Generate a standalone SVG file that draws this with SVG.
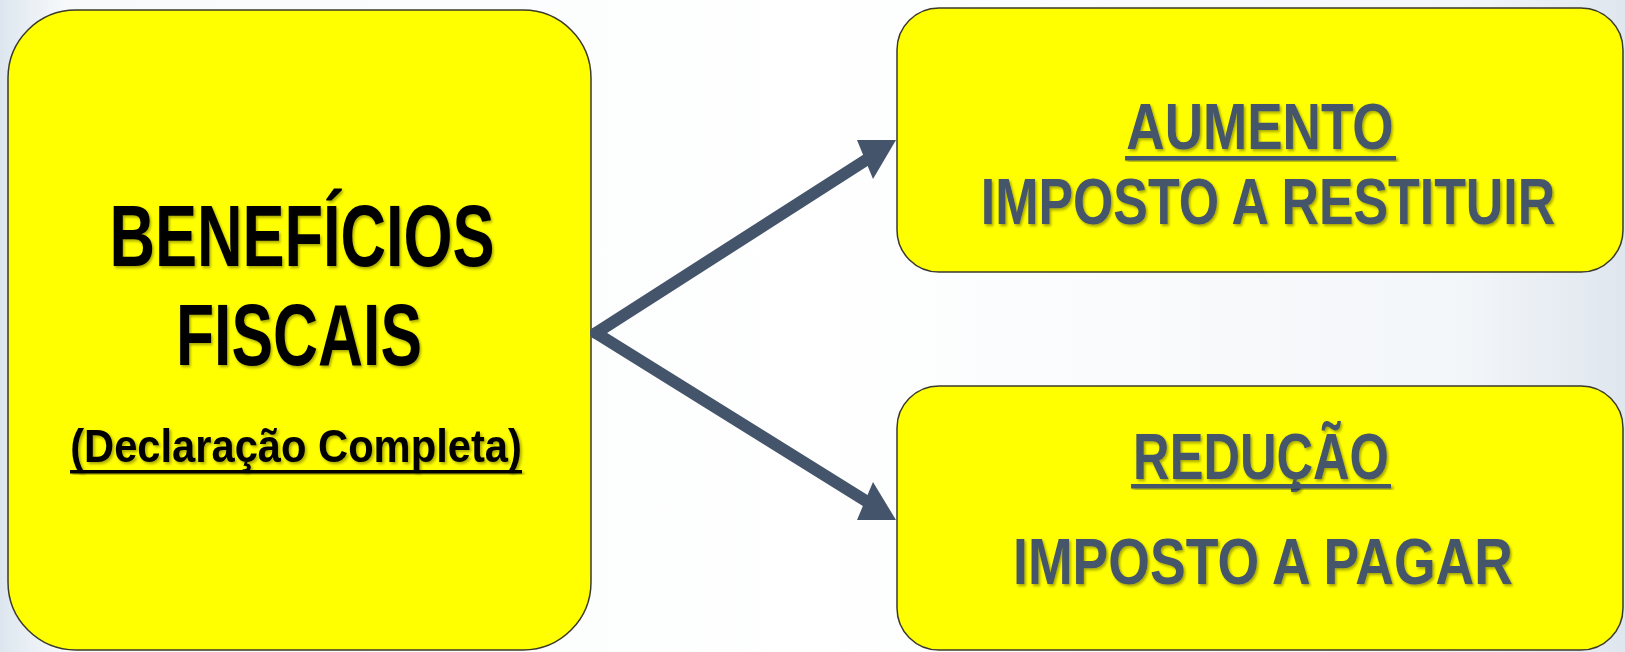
<svg xmlns="http://www.w3.org/2000/svg" width="1625" height="652" viewBox="0 0 1625 652">
  <defs>
    <linearGradient id="bg" x1="0" y1="0" x2="1" y2="0">
      <stop offset="0" stop-color="#dde6ef"/>
      <stop offset="0.04" stop-color="#f7f9fb"/>
      <stop offset="0.5" stop-color="#ffffff"/>
      <stop offset="0.9" stop-color="#f3f6f9"/>
      <stop offset="1" stop-color="#dfe6ee"/>
    </linearGradient>
    <filter id="sh" x="-10%" y="-20%" width="120%" height="150%">
      <feDropShadow dx="2" dy="2" stdDeviation="1.5" flood-color="#000" flood-opacity="0.35"/>
    </filter>
  </defs>
  <style>
    .box { fill: #ffff00; stroke: #3a3a2a; stroke-width: 1.5; }
    .t { font-family: "Liberation Sans", Arial, sans-serif; font-weight: bold; text-anchor: middle; filter: url(#sh); }
    .dark { fill: #000000; }
    .slate { fill: #44546a; }
    .conn { fill: none; stroke: #44546a; stroke-width: 12; stroke-linecap: round; }
    .head { fill: #44546a; }
  </style>
  <rect x="0" y="0" width="1625" height="652" fill="url(#bg)"/>

  <g id="node-beneficios">
    <rect class="box" x="8" y="10" width="583" height="640" rx="68" ry="68"/>
    <text class="t dark" transform="translate(302,266) scale(0.724,1)" x="0" y="0" font-size="87" textLength="532" lengthAdjust="spacingAndGlyphs">BENEFÍCIOS</text>
    <text class="t dark" transform="translate(299,365) scale(0.717,1)" x="0" y="0" font-size="87" textLength="343" lengthAdjust="spacingAndGlyphs">FISCAIS</text>
    <text class="t dark" transform="translate(296,462) scale(0.907,1)" x="0" y="0" font-size="46" textLength="498" lengthAdjust="spacingAndGlyphs">(Declaração Completa)</text>
    <rect x="70" y="470" width="452" height="3.5" fill="#000000" filter="url(#sh)"/>
  </g>

  <g id="node-aumento">
    <rect class="box" x="897" y="8" width="726" height="264" rx="42" ry="42"/>
    <text class="t slate" transform="translate(1260,149) scale(0.81,1)" x="0" y="0" font-size="65" textLength="330" lengthAdjust="spacingAndGlyphs">AUMENTO</text>
    <rect x="1125" y="156" width="271" height="4.5" fill="#44546a" filter="url(#sh)"/>
    <text class="t slate" transform="translate(1268,224) scale(0.79,1)" x="0" y="0" font-size="65" textLength="727" lengthAdjust="spacingAndGlyphs">IMPOSTO A RESTITUIR</text>
  </g>

  <g id="node-reducao">
    <rect class="box" x="897" y="386" width="726" height="264" rx="42" ry="42"/>
    <text class="t slate" transform="translate(1261,479) scale(0.78,1)" x="0" y="0" font-size="65" textLength="328" lengthAdjust="spacingAndGlyphs">REDUÇÃO</text>
    <rect x="1131" y="484" width="260" height="4.5" fill="#44546a" filter="url(#sh)"/>
    <text class="t slate" transform="translate(1263,584) scale(0.81,1)" x="0" y="0" font-size="65" textLength="617" lengthAdjust="spacingAndGlyphs">IMPOSTO A PAGAR</text>
  </g>

  <g id="connectors">
    <path class="conn" d="M596,333 L866,160"/>
    <polygon class="head" points="857,140 896,140 873,179"/>
    <path class="conn" d="M596,333 L866,501"/>
    <polygon class="head" points="873,482 896,520 857,520"/>
  </g>
</svg>
